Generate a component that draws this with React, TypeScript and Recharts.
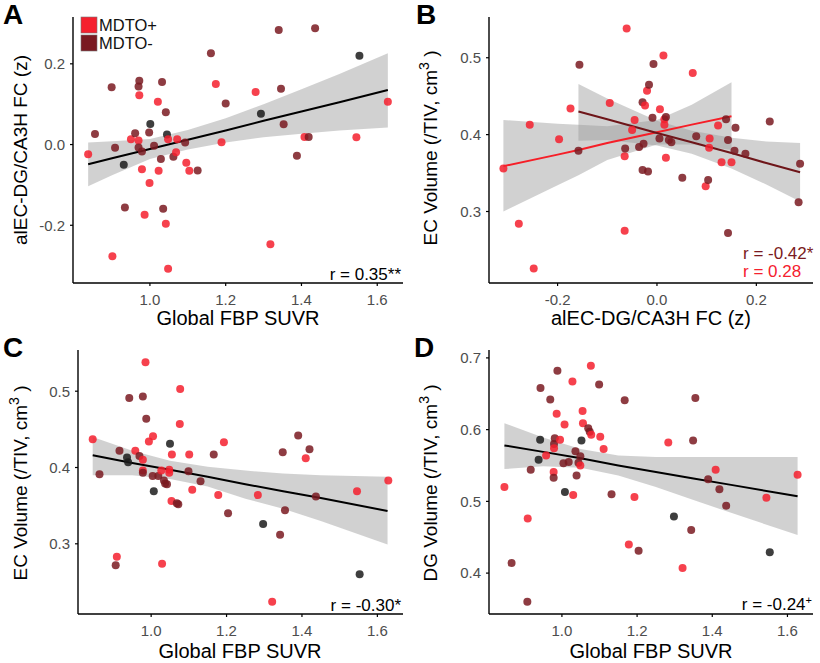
import React from 'react';
import { ComposedChart, Scatter, Area, Line, XAxis, YAxis } from 'recharts';

const FONT = '"Liberation Sans", Arial, Helvetica, sans-serif';
const RED = '#F5202E';
const DARK = '#7A1A21';
const BLACK = '#1C1C1C';
const BAND = '#999999';
const COLORS: Record<string, string> = { p: RED, m: DARK, k: BLACK };

// group: p = MDTO+, m = MDTO-, k = unclassified
const pointsA: [number, number, string][] = [
  [0.837, -0.024, 'p'], [0.855, 0.026, 'm'], [0.899, 0.142, 'm'], [0.901, -0.277, 'p'],
  [0.908, -0.008, 'm'], [0.931, -0.05, 'k'], [0.934, -0.156, 'm'], [0.95, 0.013, 'p'],
  [0.961, 0.028, 'm'], [0.972, 0.158, 'm'], [0.97, 0.144, 'm'], [0.972, 0.122, 'p'],
  [0.97, 0.01, 'p'], [0.97, -0.007, 'm'], [0.979, -0.017, 'm'], [0.979, -0.061, 'p'],
  [0.986, -0.174, 'p'], [0.998, 0.03, 'm'], [1.001, 0.051, 'k'], [0.999, -0.095, 'p'],
  [1.011, -0.003, 'm'], [1.021, 0.106, 'p'], [1.023, -0.065, 'p'], [1.029, -0.036, 'm'],
  [1.032, 0.155, 'm'], [1.035, -0.159, 'm'], [1.042, 0.08, 'm'], [1.042, -0.196, 'p'],
  [1.045, 0.025, 'k'], [1.048, 0.013, 'p'], [1.048, -0.308, 'p'], [1.062, -0.03, 'm'],
  [1.069, -0.019, 'p'], [1.072, 0.013, 'p'], [1.093, 0.005, 'm'], [1.096, -0.045, 'p'],
  [1.104, -0.065, 'p'], [1.126, -0.064, 'm'], [1.161, 0.226, 'm'], [1.174, 0.15, 'p'],
  [1.189, 0.006, 'p'], [1.2, 0.102, 'm'], [1.279, 0.13, 'p'], [1.293, 0.076, 'k'],
  [1.318, -0.247, 'p'], [1.34, 0.284, 'm'], [1.346, 0.138, 'm'], [1.353, 0.05, 'm'],
  [1.388, -0.028, 'm'], [1.408, 0.019, 'p'], [1.419, 0.019, 'm'], [1.436, 0.288, 'm'],
  [1.545, 0.018, 'p'], [1.553, 0.22, 'k'], [1.628, 0.106, 'p'],
];

const pointsB: [number, number, string][] = [
  [-0.309, 0.356, 'p'], [-0.278, 0.284, 'p'], [-0.256, 0.413, 'p'], [-0.248, 0.226, 'p'],
  [-0.197, 0.394, 'p'], [-0.174, 0.434, 'p'], [-0.158, 0.379, 'm'], [-0.156, 0.491, 'm'],
  [-0.095, 0.441, 'p'], [-0.061, 0.538, 'p'], [-0.065, 0.372, 'p'], [-0.064, 0.382, 'm'],
  [-0.065, 0.275, 'p'], [-0.045, 0.419, 'p'], [-0.05, 0.406, 'p'], [-0.036, 0.384, 'm'],
  [-0.029, 0.442, 'm'], [-0.024, 0.438, 'p'], [-0.027, 0.388, 'm'], [-0.029, 0.354, 'm'],
  [-0.018, 0.352, 'm'], [-0.02, 0.457, 'p'], [-0.016, 0.465, 'm'], [-0.007, 0.492, 'm'],
  [-0.009, 0.422, 'm'], [0.006, 0.433, 'p'], [0.005, 0.395, 'm'], [0.013, 0.503, 'p'],
  [0.015, 0.42, 'p'], [0.018, 0.423, 'm'], [0.015, 0.413, 'p'], [0.024, 0.393, 'm'],
  [0.029, 0.39, 'm'], [0.018, 0.37, 'p'], [0.051, 0.344, 'm'], [0.072, 0.48, 'p'],
  [0.079, 0.398, 'm'], [0.098, 0.333, 'p'], [0.103, 0.341, 'm'], [0.106, 0.395, 'p'],
  [0.105, 0.383, 'p'], [0.123, 0.412, 'p'], [0.13, 0.364, 'p'], [0.139, 0.42, 'm'],
  [0.143, 0.393, 'm'], [0.15, 0.364, 'p'], [0.143, 0.272, 'm'], [0.158, 0.409, 'm'],
  [0.156, 0.379, 'm'], [0.178, 0.375, 'm'], [0.227, 0.417, 'm'], [0.288, 0.362, 'm'],
  [0.285, 0.312, 'm'],
];

const pointsC: [number, number, string][] = [
  [0.845, 0.437, 'p'], [0.863, 0.391, 'm'], [0.906, 0.272, 'm'], [0.909, 0.283, 'p'],
  [0.916, 0.422, 'm'], [0.936, 0.413, 'k'], [0.939, 0.407, 'k'], [0.942, 0.491, 'm'],
  [0.958, 0.422, 'p'], [0.969, 0.415, 'm'], [0.978, 0.493, 'm'], [0.978, 0.41, 'p'],
  [0.978, 0.396, 'p'], [0.978, 0.393, 'm'], [0.985, 0.538, 'p'], [0.987, 0.464, 'm'],
  [0.994, 0.434, 'p'], [1.005, 0.441, 'p'], [1.004, 0.389, 'm'], [1.007, 0.369, 'k'],
  [1.019, 0.389, 'm'], [1.029, 0.274, 'p'], [1.027, 0.396, 'p'], [1.034, 0.383, 'm'],
  [1.037, 0.379, 'm'], [1.042, 0.378, 'm'], [1.05, 0.431, 'k'], [1.048, 0.397, 'p'],
  [1.048, 0.393, 'p'], [1.055, 0.417, 'p'], [1.054, 0.356, 'p'], [1.068, 0.353, 'm'],
  [1.072, 0.352, 'm'], [1.077, 0.503, 'p'], [1.076, 0.457, 'p'], [1.099, 0.395, 'm'],
  [1.101, 0.417, 'p'], [1.109, 0.371, 'p'], [1.131, 0.382, 'm'], [1.166, 0.417, 'm'],
  [1.178, 0.364, 'p'], [1.193, 0.433, 'p'], [1.204, 0.34, 'm'], [1.283, 0.364, 'p'],
  [1.297, 0.326, 'k'], [1.321, 0.224, 'p'], [1.342, 0.312, 'm'], [1.349, 0.42, 'm'],
  [1.355, 0.344, 'm'], [1.39, 0.442, 'm'], [1.41, 0.412, 'p'], [1.42, 0.424, 'm'],
  [1.437, 0.362, 'm'], [1.546, 0.369, 'p'], [1.553, 0.26, 'k'], [1.629, 0.383, 'p'],
];

const pointsD: [number, number, string][] = [
  [0.847, 0.52, 'p'], [0.866, 0.414, 'm'], [0.908, 0.36, 'm'], [0.909, 0.476, 'p'],
  [0.917, 0.544, 'm'], [0.942, 0.586, 'k'], [0.938, 0.558, 'k'], [0.943, 0.658, 'm'],
  [0.958, 0.564, 'p'], [0.969, 0.642, 'm'], [0.981, 0.588, 'm'], [0.979, 0.58, 'm'],
  [0.979, 0.574, 'p'], [0.978, 0.541, 'p'], [0.978, 0.533, 'm'], [0.988, 0.682, 'm'],
  [0.986, 0.622, 'p'], [0.995, 0.586, 'p'], [1.007, 0.607, 'p'], [1.004, 0.553, 'm'],
  [1.008, 0.513, 'k'], [1.018, 0.555, 'm'], [1.028, 0.667, 'p'], [1.03, 0.509, 'p'],
  [1.036, 0.57, 'm'], [1.039, 0.536, 'm'], [1.044, 0.554, 'm'], [1.049, 0.563, 'm'],
  [1.049, 0.55, 'p'], [1.052, 0.585, 'k'], [1.055, 0.626, 'p'], [1.056, 0.609, 'p'],
  [1.07, 0.602, 'm'], [1.074, 0.597, 'm'], [1.078, 0.593, 'p'], [1.077, 0.689, 'p'],
  [1.099, 0.663, 'm'], [1.102, 0.59, 'p'], [1.111, 0.573, 'p'], [1.132, 0.51, 'm'],
  [1.167, 0.641, 'm'], [1.178, 0.44, 'p'], [1.193, 0.506, 'p'], [1.204, 0.431, 'm'],
  [1.283, 0.582, 'p'], [1.298, 0.479, 'k'], [1.344, 0.46, 'm'], [1.349, 0.585, 'm'],
  [1.321, 0.407, 'p'], [1.355, 0.644, 'm'], [1.389, 0.531, 'm'], [1.409, 0.544, 'p'],
  [1.419, 0.517, 'm'], [1.437, 0.494, 'm'], [1.544, 0.505, 'p'], [1.553, 0.429, 'k'],
  [1.627, 0.537, 'p'],
];

// Fit lines and confidence bands
const bandAX = [0.837, 0.9, 1.0, 1.1, 1.2, 1.3, 1.4, 1.5, 1.628];
const bandALo = [-0.103, -0.076, -0.036, -0.012, 0.005, 0.018, 0.027, 0.035, 0.042];
const bandAHi = [0.005, 0.008, 0.014, 0.036, 0.065, 0.1, 0.137, 0.175, 0.226];
const fitA = [-0.049, -0.034, -0.011, 0.012, 0.035, 0.059, 0.082, 0.105, 0.135];

const bandBX = [-0.309, -0.2, -0.158, -0.1, 0.0, 0.07, 0.15, 0.22, 0.288];
const bandBRedLo = [0.3, 0.334, 0.347, 0.367, 0.387, 0.387, 0.38, null, null];
const bandBRedHi = [0.419, 0.414, 0.413, 0.411, 0.419, 0.439, 0.468, null, null];
const fitBRed = [0.359, 0.374, 0.38, 0.389, 0.403, 0.413, 0.424, null, null];
const bandBDarkLo = [null, null, 0.392, 0.393, 0.386, 0.375, 0.356, 0.335, 0.313];
const bandBDarkHi = [null, null, 0.466, 0.447, 0.418, 0.405, 0.396, 0.391, 0.389];
const fitBDark = [null, null, 0.43, 0.42, 0.402, 0.39, 0.376, 0.363, 0.351];

const bandCX = [0.845, 0.95, 1.05, 1.15, 1.25, 1.35, 1.45, 1.627];
const bandCLo = [0.39, 0.39, 0.385, 0.375, 0.359, 0.346, 0.33, 0.299];
const bandCHi = [0.44, 0.422, 0.409, 0.401, 0.396, 0.392, 0.39, 0.388];
const fitC = [0.416, 0.406, 0.397, 0.388, 0.378, 0.369, 0.36, 0.343];

const bandDX = [0.847, 0.95, 1.05, 1.15, 1.25, 1.35, 1.45, 1.627];
const bandDLo = [0.545, 0.549, 0.547, 0.536, 0.52, 0.502, 0.484, 0.453];
const bandDHi = [0.609, 0.589, 0.573, 0.564, 0.562, 0.562, 0.562, 0.562];
const fitD = [0.578, 0.569, 0.56, 0.55, 0.541, 0.532, 0.523, 0.507];

const fbpTicks = [1.0, 1.2, 1.4, 1.6];
const fcTicksA = [-0.2, 0.0, 0.2];
const fcTicksB = [-0.2, 0.0, 0.2];
const ecTicks = [0.3, 0.4, 0.5];
const dgTicks = [0.4, 0.5, 0.6, 0.7];

const toPts = (arr: [number, number, string][]) => arr.map(([x, y, g]) => ({ x, y, g }));

const rowsSingle = (xs: number[], lo: number[], hi: number[], fit: number[]) =>
  xs.map((x, i) => ({ x, band: [lo[i], hi[i]], fit: fit[i] }));

const rowsB = bandBX.map((x, i) => ({
  x,
  bandR: bandBRedLo[i] == null ? undefined : [bandBRedLo[i], bandBRedHi[i]],
  fitR: fitBRed[i] == null ? undefined : fitBRed[i],
  bandD: bandBDarkLo[i] == null ? undefined : [bandBDarkLo[i], bandBDarkHi[i]],
  fitD: fitBDark[i] == null ? undefined : fitBDark[i],
}));

const Dot = (props: any) => {
  const { cx, cy, payload } = props;
  if (cx == null || cy == null) return null;
  return <circle cx={cx} cy={cy} r={4} fill={COLORS[payload.g]} fillOpacity={0.85} />;
};

const fmt = (v: number) => v.toFixed(1);

type Series = { band: string; fit: string; color: string };

function Panel(props: any) {
  const { left, top, width, height, marginTop, plotH, yWidth, xDomain, yDomain, xTicks, yTicks, points, rows, series } = props;
  const axisStyle = { fill: '#4D4D4D', fontSize: 15, fontFamily: FONT };
  return (
    <div style={{ position: 'absolute', left, top }}>
      <ComposedChart width={width} height={height} data={rows} margin={{ top: marginTop, right: 7, bottom: 0, left: 0 }}>
        <XAxis
          type="number"
          dataKey="x"
          domain={xDomain}
          ticks={xTicks}
          interval={0}
          allowDataOverflow
          tickFormatter={fmt}
          height={height - marginTop - plotH}
          tick={axisStyle}
          tickSize={3}
          tickMargin={8}
          tickLine={{ stroke: '#000', strokeWidth: 1.2 }}
          axisLine={{ stroke: '#000', strokeWidth: 1.4 }}
        />
        <YAxis
          type="number"
          domain={yDomain}
          ticks={yTicks}
          interval={0}
          allowDataOverflow
          tickFormatter={fmt}
          width={yWidth}
          tick={axisStyle}
          tickSize={3}
          tickMargin={5}
          tickLine={{ stroke: '#000', strokeWidth: 1.2 }}
          axisLine={{ stroke: '#000', strokeWidth: 1.4 }}
        />
        <Scatter data={points} dataKey="y" shape={<Dot />} isAnimationActive={false} />
        {series.map((s: Series) => (
          <Area
            key={s.band}
            type="linear"
            dataKey={s.band}
            stroke="none"
            fill={BAND}
            fillOpacity={0.45}
            dot={false}
            activeDot={false}
            isAnimationActive={false}
          />
        ))}
        {series.map((s: Series) => (
          <Line
            key={s.fit}
            type="linear"
            dataKey={s.fit}
            stroke={s.color}
            strokeWidth={2}
            dot={false}
            activeDot={false}
            isAnimationActive={false}
          />
        ))}
      </ComposedChart>
    </div>
  );
}

function VolTitle({ x, y, label }: any) {
  return (
    <text transform={`translate(${x},${y}) rotate(-90)`} textAnchor="middle" fontSize={19} fill="#000" fontFamily={FONT}>
      {label} (/TIV, cm<tspan dy={-8} fontSize={14}>3</tspan>
      <tspan dy={8}> )</tspan>
    </text>
  );
}

export default function App() {
  const single: Series[] = [{ band: 'band', fit: 'fit', color: '#000' }];
  const twin: Series[] = [
    { band: 'bandR', fit: 'fitR', color: '#F61E27' },
    { band: 'bandD', fit: 'fitD', color: '#6E1519' },
  ];
  return (
    <div style={{ position: 'fixed', left: 0, top: 0, width: 820, height: 663, background: '#fff', fontFamily: FONT }}>
      <Panel
        left={0} top={0} width={410} height={330} marginTop={17} plotH={266} yWidth={73}
        xDomain={[0.797, 1.668]} yDomain={[-0.343, 0.316]} xTicks={fbpTicks} yTicks={fcTicksA}
        points={toPts(pointsA)} rows={rowsSingle(bandAX, bandALo, bandAHi, fitA)} series={single}
      />
      <Panel
        left={410} top={0} width={410} height={330} marginTop={17} plotH={266} yWidth={79}
        xDomain={[-0.338, 0.314]} yDomain={[0.207, 0.553]} xTicks={fcTicksB} yTicks={ecTicks}
        points={toPts(pointsB)} rows={rowsB} series={twin}
      />
      <Panel
        left={0} top={330} width={410} height={333} marginTop={20} plotH={264} yWidth={78}
        xDomain={[0.806, 1.668]} yDomain={[0.208, 0.554]} xTicks={fbpTicks} yTicks={ecTicks}
        points={toPts(pointsC)} rows={rowsSingle(bandCX, bandCLo, bandCHi, fitC)} series={single}
      />
      <Panel
        left={410} top={330} width={410} height={333} marginTop={20} plotH={264} yWidth={79}
        xDomain={[0.806, 1.668]} yDomain={[0.343, 0.711]} xTicks={fbpTicks} yTicks={dgTicks}
        points={toPts(pointsD)} rows={rowsSingle(bandDX, bandDLo, bandDHi, fitD)} series={single}
      />
      <svg width={820} height={663} style={{ position: 'absolute', left: 0, top: 0, pointerEvents: 'none' }}>
        <g fontFamily={FONT} fontWeight="bold" fontSize={28} fill="#000">
          <text x={3} y={24}>A</text>
          <text x={416} y={24}>B</text>
          <text x={3} y={357}>C</text>
          <text x={414} y={357}>D</text>
        </g>
        <rect x={81} y={17} width={16} height={16} fill={RED} stroke="#777" strokeWidth={0.6} />
        <rect x={81} y={35} width={16} height={16} fill={DARK} stroke="#777" strokeWidth={0.6} />
        <text x={99} y={31} fontSize={16.5} fontFamily={FONT} fill="#111">MDTO+</text>
        <text x={99} y={49} fontSize={16.5} fontFamily={FONT} fill="#111">MDTO-</text>

        <text transform="translate(27,150) rotate(-90)" textAnchor="middle" fontSize={19} fontFamily={FONT} fill="#000">
          alEC-DG/CA3H FC (z)
        </text>
        <VolTitle x={437} y={148} label="EC Volume" />
        <VolTitle x={27} y={483} label="EC Volume" />
        <VolTitle x={437} y={483} label="DG Volume" />

        <g fontFamily={FONT} fontSize={20} fill="#000" textAnchor="middle">
          <text x={238} y={325}>Global FBP SUVR</text>
          <text x={651} y={325}>alEC-DG/CA3H FC (z)</text>
          <text x={240} y={658}>Global FBP SUVR</text>
          <text x={651} y={658}>Global FBP SUVR</text>
        </g>

        <g fontFamily={FONT} fontSize={17}>
          <text x={401} y={280} textAnchor="end" fill="#000">r = 0.35**</text>
          <text x={743} y={259} fill="#7A1A21">r = -0.42*</text>
          <text x={743} y={277} fill="#F5202E">r = 0.28</text>
          <text x={401} y={611} textAnchor="end" fill="#000">r = -0.30*</text>
          <text x={812} y={610} textAnchor="end" fill="#000">
            r = -0.24<tspan dy={-6} fontSize={11}>+</tspan>
          </text>
        </g>
      </svg>
    </div>
  );
}
